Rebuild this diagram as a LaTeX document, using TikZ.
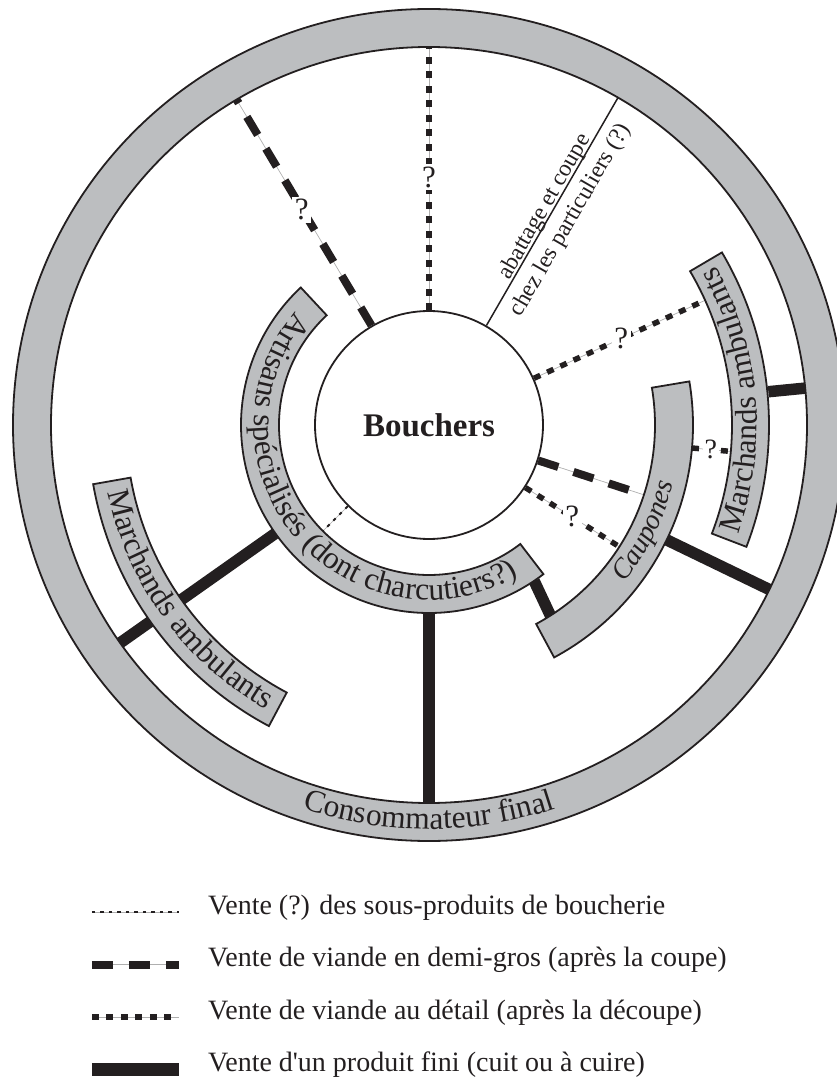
\documentclass[tikz,border=0pt]{standalone}
\usepackage{fontspec}
\setmainfont{Liberation Serif}[Ligatures=TeXOff]
\usetikzlibrary{decorations.text,calc}
\definecolor{ink}{RGB}{35,31,32}
\definecolor{bandgray}{RGB}{188,190,192}
\definecolor{thingray}{RGB}{175,175,175}
\newcommand\curvefont{\fontsize{31.5}{38}\selectfont}
\newcommand\caupfont{\fontsize{28}{34}\selectfont\itshape}
\newcommand\myband[4]{\filldraw[band] (#1:#3) arc[start angle=#1,end angle=#2,radius=#3] -- (#2:#4) arc[start angle=#2,end angle=#1,radius=#4] -- cycle;}
\begin{document}
\begin{tikzpicture}[x=1pt,y=1pt,
  band/.style={fill=bandgray, draw=ink, line width=1.8pt, line join=miter},
  guide/.style={preaction={draw=thingray, line width=0.7pt, solid}},
  sousprod/.style={guide, draw=ink, line width=2pt, dash pattern=on 3.5pt off 5pt},
  demigros/.style={guide, draw=ink, line width=8pt, dash pattern=on 21pt off 16pt},
  detail/.style={guide, draw=ink, line width=5.5pt, dash pattern=on 7pt off 7.5pt},
  fini/.style={draw=ink, line width=11.5pt},
  abat/.style={draw=ink, line width=1.5pt},
  qmark/.style={fill=white, inner sep=2.5pt, font=\fontsize{31}{37}\selectfont, text=ink},
  abtext/.style={font=\fontsize{23.5}{28}\selectfont, text=ink, inner sep=0pt, rotate=60, anchor=base},
  legtext/.style={anchor=base west, font=\fontsize{28}{33}\selectfont, text=ink, inner sep=0pt},
  curved/.style={decorate, decoration={text along path, text align=center, text color=ink}},
]
\useasboundingbox (-429,425) rectangle (408,-661);

% central node
\node[circle, draw=ink, line width=1.8pt, fill=white, minimum size=228pt, inner sep=0pt,
      font=\fontsize{33}{40}\selectfont\bfseries, text=ink] (bouchers) at (0,0) {Bouchers};

% end points on bands and ring
\coordinate (ringA) at (90:378);
\coordinate (ringB) at (120.6:378);
\coordinate (ringC) at (60:378);
\coordinate (marR1) at (24.3:303);
\coordinate (caupR) at (-5:264);
\coordinate (marR2) at (-5:303);
\coordinate (caupA) at (-18:226);
\coordinate (caupB) at (-32.6:226);
\coordinate (caupO) at (-25.8:264);
\coordinate (ringD) at (-25.8:378);
\coordinate (marRo) at (5.6:341);
\coordinate (ringE) at (5.6:378);
\coordinate (artC) at (-56:188);
\coordinate (caupC) at (-57.5:226);
\coordinate (artD) at (-90:188);
\coordinate (ringF) at (-90:378);
\coordinate (artE) at (215.2:188);
\coordinate (ringG) at (215.2:378);
\coordinate (artI) at (225:150);

% connectors
\draw[sousprod] (bouchers.225) -- (artI);
\draw[detail] (bouchers.90) -- (ringA);
\draw[demigros] (bouchers.120.6) -- (ringB);
\draw[abat] (bouchers.60) -- (ringC);
\draw[detail] (bouchers.24.5) -- (marR1);
\draw[detail] (caupR) -- (marR2);
\draw[demigros] (bouchers.342) -- (caupA);
\draw[detail] (bouchers.327.4) -- (caupB);
\draw[fini] (caupO) -- (ringD);
\draw[fini] (marRo) -- (ringE);
\draw[fini] (artC) -- (caupC);
\draw[fini] (artD) -- (ringF);
\draw[fini] (artE) -- (ringG);

% outer ring
\fill[bandgray, even odd rule] (0,0) circle[radius=416] (0,0) circle[radius=378];
\draw[ink, line width=1.8pt] (0,0) circle[radius=416] (0,0) circle[radius=378];

% bands
\myband{133}{307.5}{150}{188}
\myband{190}{242}{303}{341}
\myband{-21}{30.5}{303}{340}
\myband{-61.7}{9.5}{226}{264}

% curved texts
\path[curved, decoration={text={|\curvefont|Artisans spécialisés (dont charcutiers?)}}]
  (133:175) arc[start angle=133, end angle=307.5, radius=175];
\path[curved, decoration={text={|\curvefont|Marchands ambulants}}]
  (190:328) arc[start angle=190, end angle=242, radius=328];
\path[curved, decoration={text={|\curvefont|Marchands ambulants}}]
  (-21:328) arc[start angle=-21, end angle=30.5, radius=328];
\path[curved, decoration={text={|\caupfont|Caupones}}]
  (-61.7:251) arc[start angle=-61.7, end angle=9.5, radius=251];
\path[curved, decoration={text={|\curvefont|Consommateur final}}]
  (225:404) arc[start angle=225, end angle=315, radius=404];

% question marks
\node[qmark] (q1) at (90:248) {?};
\node[qmark] (q2) at (120.6:250) {?};
\node[qmark] (q3) at (24.3:211) {?};
\node[qmark, font=\fontsize{28}{34}\selectfont, inner sep=1.5pt] (q4) at (-5:283) {?};
\node[qmark] (q5) at (-32.6:170) {?};

% abattage label
\node[abtext] (ab1) at ($(60:247)+(150:3)$) {abattage et coupe};
\node[abtext] (ab2) at ($(60:248)+(330:26)$) {chez les particuliers (?)};

% legend
\coordinate (l1a) at (-337,-487);   \coordinate (l1b) at (-250,-487);
\coordinate (l2a) at (-337,-539.5); \coordinate (l2b) at (-250,-539.5);
\coordinate (l3a) at (-337,-592);   \coordinate (l3b) at (-250,-592);
\coordinate (l4a) at (-337,-644.5); \coordinate (l4b) at (-250,-644.5);
\draw[sousprod] (l1a) -- (l1b);
\draw[demigros] (l2a) -- (l2b);
\draw[detail] (l3a) -- (l3b);
\draw[fini, line width=12.5pt] (l4a) -- (l4b);
\node[legtext] (t1) at (-221,-489) {Vente (?) des sous-produits de boucherie};
\node[legtext] (t2) at (-221,-541.5) {Vente de viande en demi-gros (après la coupe)};
\node[legtext] (t3) at (-221,-594) {Vente de viande au détail (après la découpe)};
\node[legtext] (t4) at (-221,-646.5) {Vente d\symbol{39}un produit fini (cuit ou à cuire)};
\end{tikzpicture}
\end{document}
